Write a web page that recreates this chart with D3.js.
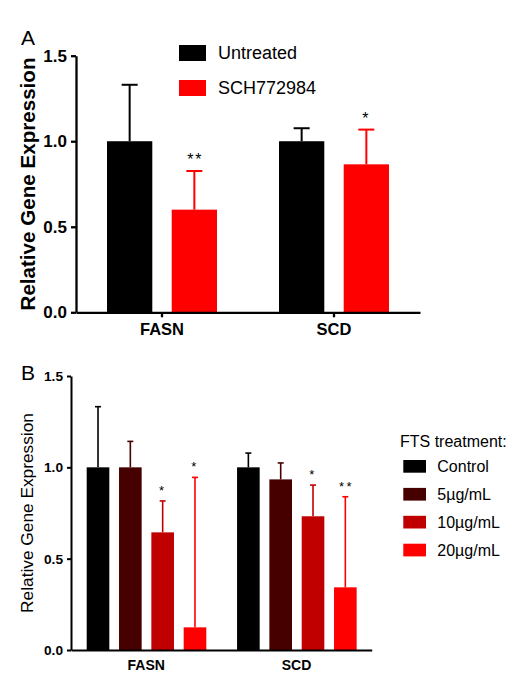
<!DOCTYPE html>
<html>
<head>
<meta charset="utf-8">
<script src="https://cdn.jsdelivr.net/npm/d3@7"></script>
<style>
  body { margin: 0; background: #fff; }
  svg { font-family: "Liberation Sans", Arial, sans-serif; }
  .axis path, .axis line { stroke: #000; }
</style>
</head>
<body>
<svg id="chart" width="517" height="680"></svg>
<script>
// ---- data ----
const genes = ["FASN", "SCD"];

// panel A
const groupsA = ["Untreated", "SCH772984"];
const colorsA = ["#000000", "#ff0000"];
const untreatedMean = [1.0, 1.0];
const untreatedSD = [0.33, 0.076];
const schMean = [0.60, 0.865];
const schSD = [0.226, 0.203];
const schStars = ["**", "*"];

// panel B
const doses = ["Control", "5\u00b5g/mL", "10\u00b5g/mL", "20\u00b5g/mL"];
const colorsB = ["#000000", "#470000", "#c00000", "#ff0000"];
const controlMean = [1.0, 1.0];
const controlSD = [0.332, 0.078];
const dose5Mean = [1.0, 0.934];
const dose5SD = [0.142, 0.09];
const dose10Mean = [0.644, 0.732];
const dose10SD = [0.172, 0.171];
const dose20Mean = [0.124, 0.343];
const dose20SD = [0.821, 0.496];
const dose10Stars = ["*", "*"];
const dose20Stars = ["*", "**"];

const yTicks = [0, 0.5, 1.0, 1.5];

const svg = d3.select("#chart");

// draws one grouped bar panel
function drawPanel(cfg) {
  const g = svg.append("g");

  const x = d3.scaleBand().domain(genes).range(cfg.xRange);
  const xs = d3.scaleBand().domain(cfg.groups)
    .range(cfg.innerRange).paddingInner(cfg.innerPad);
  const y = d3.scaleLinear().domain([0, 1.5]).range(cfg.yRange);

  // rows: one per gene x group
  const rows = [];
  cfg.groups.forEach((grp, i) => {
    genes.forEach((gene, j) => {
      rows.push({gene, grp, i, mean: cfg.means[i][j], sd: cfg.sds[i][j],
        star: cfg.stars[i] ? cfg.stars[i][j] : ""});
    });
  });

  const bx = d => x(d.gene) + xs(d.grp);
  const cx = d => bx(d) + xs.bandwidth() / 2;

  // error bars (upper only)
  g.selectAll(".err").data(rows).enter().append("line")
    .attr("x1", cx).attr("x2", cx)
    .attr("y1", d => y(d.mean)).attr("y2", d => y(d.mean + d.sd))
    .attr("stroke", d => cfg.colors[d.i]).attr("stroke-width", cfg.errW);
  g.selectAll(".cap").data(rows).enter().append("line")
    .attr("x1", d => cx(d) - cfg.capW / 2).attr("x2", d => cx(d) + cfg.capW / 2)
    .attr("y1", d => y(d.mean + d.sd)).attr("y2", d => y(d.mean + d.sd))
    .attr("stroke", d => cfg.colors[d.i]).attr("stroke-width", cfg.errW);

  g.selectAll(".bar").data(rows).enter().append("rect")
    .attr("x", bx).attr("width", xs.bandwidth())
    .attr("y", d => y(d.mean)).attr("height", d => y(0) - y(d.mean))
    .attr("fill", d => cfg.colors[d.i]);

  // significance stars, spaced like the original
  g.selectAll(".star").data(rows.filter(d => d.star)).enter().append("text")
    .attr("x", d => cx(d) + (d.star.length - 1) * cfg.starGap / 2)
    .attr("y", d => y(d.mean + d.sd) - 6)
    .attr("text-anchor", "middle")
    .style("font-size", cfg.starSize + "px")
    .style("letter-spacing", cfg.starGap + "px")
    .text(d => d.star);

  // axes
  const yAxis = g.append("g").attr("class", "axis")
    .attr("transform", `translate(${cfg.xRange[0]},0)`)
    .call(d3.axisLeft(y).tickValues(yTicks).tickFormat(d3.format(".1f"))
      .tickSize(cfg.yTick).tickSizeOuter(0).tickPadding(cfg.yPad));
  yAxis.selectAll("path, line").attr("stroke-width", cfg.axisW);
  yAxis.selectAll("text").attr("fill", "#000")
    .style("font-size", cfg.tickSize + "px").style("font-weight", "bold")
    .style("font-family", "Liberation Sans, Arial, sans-serif");

  const xAxis = g.append("g").attr("class", "axis")
    .attr("transform", `translate(0,${y(0)})`)
    .call(d3.axisBottom(x).tickSize(cfg.xTick).tickSizeOuter(0).tickPadding(cfg.xPad));
  xAxis.selectAll("path, line").attr("stroke-width", cfg.axisW);
  xAxis.selectAll("text").attr("fill", "#000")
    .style("font-size", cfg.xLabelSize + "px").style("font-weight", "bold")
    .style("font-family", "Liberation Sans, Arial, sans-serif");

  // y title
  g.append("text")
    .attr("transform", `translate(${cfg.titleX},${(cfg.yRange[0] + cfg.yRange[1]) / 2}) rotate(-90)`)
    .attr("text-anchor", "middle").attr("dominant-baseline", "central")
    .style("font-size", cfg.titleSize + "px")
    .style("font-weight", cfg.titleWeight)
    .text("Relative Gene Expression");

  // panel letter
  g.append("text").attr("x", cfg.letterX).attr("y", cfg.letterY)
    .style("font-size", "21px").text(cfg.letter);
}

drawPanel({
  groups: groupsA, colors: colorsA,
  means: [untreatedMean, schMean], sds: [untreatedSD, schSD],
  stars: [null, schStars],
  xRange: [76, 420], innerRange: [31, 141], innerPad: 0.3,
  yRange: [312.3, 55.7],
  errW: 2, capW: 16, axisW: 2.3, starSize: 16, starGap: 2,
  yTick: 5, yPad: 4, tickSize: 17,
  xTick: 5, xPad: 6, xLabelSize: 16.5,
  titleX: 27, titleSize: 20.6, titleWeight: "bold",
  letter: "A", letterX: 21, letterY: 45
});

drawPanel({
  groups: doses, colors: colorsB,
  means: [controlMean, dose5Mean, dose10Mean, dose20Mean],
  sds: [controlSD, dose5SD, dose10SD, dose20SD],
  stars: [null, null, dose10Stars, dose20Stars],
  xRange: [71, 371.7], innerRange: [15.7, 135.3], innerPad: 0.3,
  yRange: [650, 376],
  errW: 1.6, capW: 6, axisW: 2, starSize: 13, starGap: 2.5,
  yTick: 4, yPad: 4, tickSize: 13.7,
  xTick: 0, xPad: 10, xLabelSize: 14,
  titleX: 27, titleSize: 17.3, titleWeight: "normal",
  letter: "B", letterX: 21, letterY: 380
});

// legend A
const legA = svg.append("g");
groupsA.forEach((name, i) => {
  const yy = 45 + i * 35;
  legA.append("rect").attr("x", 179).attr("y", yy).attr("width", 27).attr("height", 16)
    .attr("fill", colorsA[i]);
  legA.append("text").attr("x", 218).attr("y", yy + 8)
    .attr("dominant-baseline", "central").style("font-size", "18px").text(name);
});

// legend B
const legB = svg.append("g");
legB.append("text").attr("x", 400).attr("y", 441.7)
  .attr("dominant-baseline", "central").style("font-size", "16px").text("FTS treatment:");
doses.forEach((name, i) => {
  const yy = 460 + i * 27.9;
  legB.append("rect").attr("x", 403.3).attr("y", yy).attr("width", 22.7).attr("height", 12.7)
    .attr("fill", colorsB[i]);
  legB.append("text").attr("x", 437.3).attr("y", yy + 6.5)
    .attr("dominant-baseline", "central").style("font-size", "16px").text(name);
});
</script>
</body>
</html>
